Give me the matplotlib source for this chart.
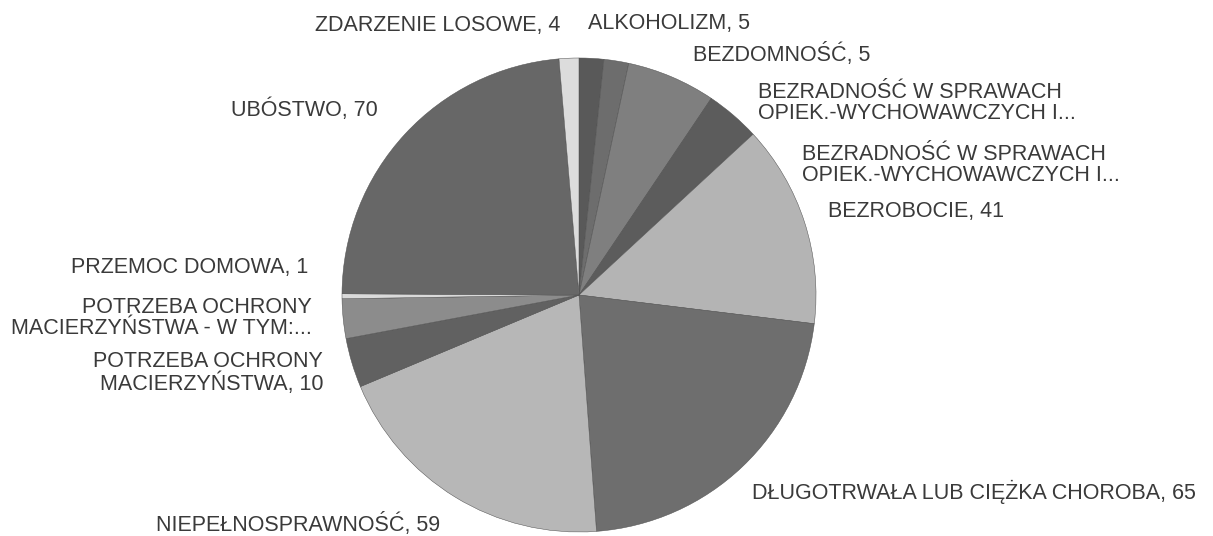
import matplotlib
matplotlib.use("Agg")
import matplotlib.pyplot as plt

# ---- data ----
categories = [
    "ALKOHOLIZM",
    "BEZDOMNOŚĆ",
    "BEZRADNOŚĆ W SPRAWACH\nOPIEK.-WYCHOWAWCZYCH I...",
    "BEZRADNOŚĆ W SPRAWACH\nOPIEK.-WYCHOWAWCZYCH I...",
    "BEZROBOCIE",
    "DŁUGOTRWAŁA LUB CIĘŻKA CHOROBA",
    "NIEPEŁNOSPRAWNOŚĆ",
    "POTRZEBA OCHRONY\nMACIERZYŃSTWA",
    "POTRZEBA OCHRONY\nMACIERZYŃSTWA - W TYM:...",
    "PRZEMOC DOMOWA",
    "UBÓSTWO",
    "ZDARZENIE LOSOWE",
]
values = [5, 5, 18, 11, 41, 65, 59, 10, 8, 1, 70, 4]
show_value = [True, True, False, False, True, True, True, True, False, True, True, True]
colors = ["#595959", "#6d6d6d", "#7f7f7f", "#5c5c5c", "#b4b4b4", "#6e6e6e",
          "#b7b7b7", "#616161", "#8c8c8c", "#dadada", "#676767", "#dcdcdc"]

# ---- layout (pixel coordinates, y measured from top) ----
W, H = 1213, 536
center = (579, 295)
radius = 237
label_pos = [
    (588, 23, "left"),
    (693, 55, "left"),
    (758, 103, "left"),
    (802, 165, "left"),
    (828, 211, "left"),
    (752, 492, "left"),
    (440, 524, "right"),
    (323, 373, "right"),
    (312, 318, "right"),
    (308, 268, "right"),
    (378, 110, "right"),
    (560, 25, "right"),
]

fig = plt.figure(figsize=(W / 100, H / 100), dpi=100)
ax = fig.add_axes([0, 0, 1, 1])

ax.pie(values, colors=colors, startangle=90, counterclock=False,
       center=(center[0], H - center[1]), radius=radius,
       wedgeprops=dict(edgecolor="#505050", linewidth=0.35))

ax.set_xlim(0, W)
ax.set_ylim(0, H)
ax.set_aspect("equal")
ax.axis("off")

for cat, val, sv, (x, y, ha) in zip(categories, values, show_value, label_pos):
    txt = f"{cat}, {val}" if sv else cat
    ax.text(x, H - y, txt, ha=ha, va="center", multialignment=ha,
            fontsize=15.5, family="Liberation Sans", color="#3a3a3a",
            linespacing=1.0)

fig.savefig("out.png", dpi=100, facecolor="white")
